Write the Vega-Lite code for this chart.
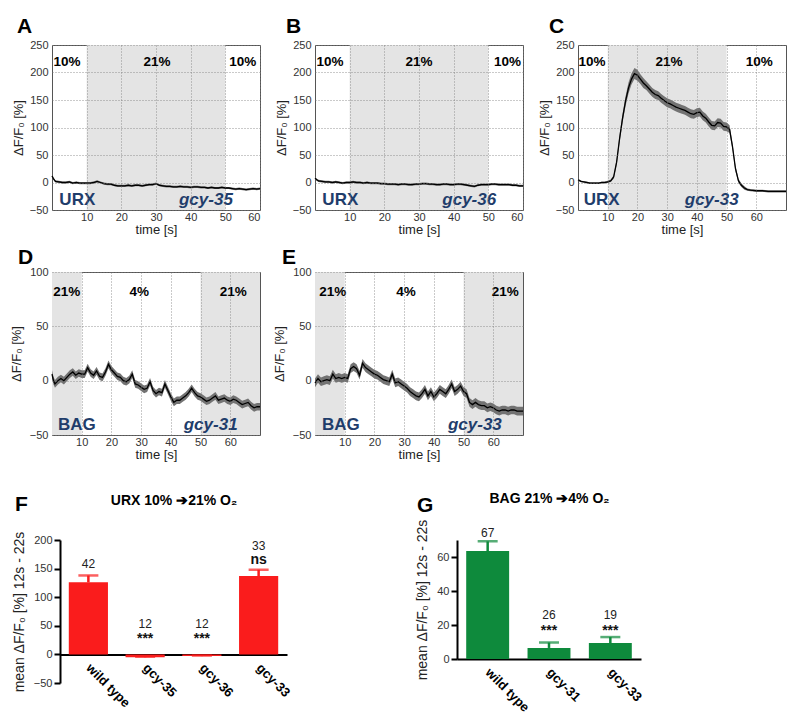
{
"$schema": "https://vega.github.io/schema/vega-lite/v6.json",
"padding": {"left": 9, "top": 15, "right": 0, "bottom": 0},
"config": {"font": "Liberation Sans", "view": {"stroke": null}, "axis": {"labelColor": "#333", "titleColor": "#222", "titleFontWeight": "normal", "labelFont": "Liberation Sans", "titleFont": "Liberation Sans", "labelOverlap": false}},
"datasets": {
"A": [{"t":0,"v":12,"s":2},{"t":0.5,"v":6,"s":2},{"t":1,"v":2,"s":2},{"t":2,"v":1,"s":2},{"t":3,"v":0,"s":2},{"t":4,"v":0,"s":2},{"t":5,"v":1,"s":2},{"t":6,"v":-1,"s":2},{"t":7,"v":0,"s":2},{"t":8,"v":-1,"s":2},{"t":9,"v":-1,"s":2},{"t":10,"v":-1,"s":2},{"t":11,"v":-1,"s":2},{"t":12,"v":0,"s":2},{"t":13,"v":2,"s":2},{"t":14,"v":0,"s":2},{"t":15,"v":-2,"s":2},{"t":16,"v":-3,"s":2},{"t":17,"v":-3,"s":2},{"t":18,"v":-5,"s":2},{"t":19,"v":-6,"s":2},{"t":20,"v":-6,"s":2},{"t":21,"v":-6,"s":2},{"t":22,"v":-5,"s":2},{"t":23,"v":-6,"s":2},{"t":24,"v":-5,"s":2},{"t":25,"v":-5,"s":2},{"t":26,"v":-6,"s":2},{"t":27,"v":-5,"s":2},{"t":28,"v":-4,"s":2},{"t":29,"v":-4,"s":2},{"t":30,"v":-2,"s":2},{"t":31,"v":-5,"s":2},{"t":32,"v":-6,"s":2},{"t":33,"v":-7,"s":2},{"t":34,"v":-7,"s":2},{"t":35,"v":-8,"s":2},{"t":36,"v":-8,"s":2},{"t":37,"v":-7,"s":2},{"t":38,"v":-8,"s":2},{"t":39,"v":-8,"s":2},{"t":40,"v":-9,"s":2},{"t":41,"v":-8,"s":2},{"t":42,"v":-8,"s":2},{"t":43,"v":-9,"s":2},{"t":44,"v":-9,"s":2},{"t":45,"v":-10,"s":2},{"t":46,"v":-9,"s":2},{"t":47,"v":-10,"s":2},{"t":48,"v":-10,"s":2},{"t":49,"v":-9,"s":2},{"t":50,"v":-10,"s":2},{"t":51,"v":-10,"s":2},{"t":52,"v":-11,"s":2},{"t":53,"v":-12,"s":2},{"t":54,"v":-11,"s":2},{"t":55,"v":-12,"s":2},{"t":56,"v":-13,"s":2},{"t":57,"v":-12,"s":2},{"t":58,"v":-11,"s":2},{"t":59,"v":-12,"s":2},{"t":60,"v":-11,"s":2}],
"B": [{"t":0,"v":8,"s":2},{"t":0.5,"v":5,"s":2},{"t":1,"v":3,"s":2},{"t":2,"v":2,"s":2},{"t":3,"v":1,"s":2},{"t":4,"v":1,"s":2},{"t":5,"v":0,"s":2},{"t":6,"v":1,"s":2},{"t":7,"v":0,"s":2},{"t":8,"v":-1,"s":2},{"t":9,"v":0,"s":2},{"t":10,"v":0,"s":2},{"t":11,"v":1,"s":2},{"t":12,"v":0,"s":2},{"t":13,"v":0,"s":2},{"t":14,"v":-1,"s":2},{"t":15,"v":0,"s":2},{"t":16,"v":-1,"s":2},{"t":17,"v":-1,"s":2},{"t":18,"v":-1,"s":2},{"t":19,"v":-2,"s":2},{"t":20,"v":-2,"s":2},{"t":21,"v":-3,"s":2},{"t":22,"v":-3,"s":2},{"t":23,"v":-3,"s":2},{"t":24,"v":-4,"s":2},{"t":25,"v":-3,"s":2},{"t":26,"v":-3,"s":2},{"t":27,"v":-4,"s":2},{"t":28,"v":-4,"s":2},{"t":29,"v":-3,"s":2},{"t":30,"v":-3,"s":2},{"t":31,"v":-2,"s":2},{"t":32,"v":-2,"s":2},{"t":33,"v":-3,"s":2},{"t":34,"v":-3,"s":2},{"t":35,"v":-4,"s":2},{"t":36,"v":-4,"s":2},{"t":37,"v":-3,"s":2},{"t":38,"v":-3,"s":2},{"t":39,"v":-4,"s":2},{"t":40,"v":-4,"s":2},{"t":41,"v":-3,"s":2},{"t":42,"v":-3,"s":2},{"t":43,"v":-4,"s":2},{"t":44,"v":-5,"s":2},{"t":45,"v":-6,"s":2},{"t":46,"v":-7,"s":2},{"t":47,"v":-5,"s":2},{"t":48,"v":-4,"s":2},{"t":49,"v":-4,"s":2},{"t":50,"v":-4,"s":2},{"t":51,"v":-3,"s":2},{"t":52,"v":-3,"s":2},{"t":53,"v":-4,"s":2},{"t":54,"v":-4,"s":2},{"t":55,"v":-4,"s":2},{"t":56,"v":-4,"s":2},{"t":57,"v":-5,"s":2},{"t":58,"v":-5,"s":2},{"t":59,"v":-6,"s":2},{"t":60,"v":-6,"s":2}],
"C": [{"t":0,"v":5,"s":2},{"t":1,"v":2,"s":1.5},{"t":2,"v":1,"s":1.5},{"t":3,"v":0,"s":1.5},{"t":4,"v":-1,"s":1.5},{"t":5,"v":-1,"s":1.5},{"t":6,"v":-1,"s":1.5},{"t":7,"v":-1,"s":1.5},{"t":8,"v":0,"s":1.5},{"t":9,"v":0,"s":1.5},{"t":10,"v":1,"s":2},{"t":11,"v":3,"s":2},{"t":12,"v":10,"s":3},{"t":13,"v":37,"s":5},{"t":14,"v":80,"s":7},{"t":15,"v":117,"s":8},{"t":16,"v":148,"s":9},{"t":17,"v":172,"s":10},{"t":18,"v":188,"s":10},{"t":19,"v":198,"s":10},{"t":20,"v":195,"s":10},{"t":21,"v":188,"s":9},{"t":22,"v":181,"s":9},{"t":23,"v":176,"s":8},{"t":24,"v":170,"s":8},{"t":25,"v":164,"s":8},{"t":26,"v":160,"s":8},{"t":27,"v":158,"s":8},{"t":28,"v":153,"s":8},{"t":29,"v":149,"s":8},{"t":30,"v":145,"s":8},{"t":31,"v":143,"s":8},{"t":32,"v":140,"s":8},{"t":33,"v":137,"s":8},{"t":34,"v":135,"s":8},{"t":35,"v":133,"s":8},{"t":36,"v":131,"s":8},{"t":37,"v":128,"s":8},{"t":38,"v":125,"s":8},{"t":39,"v":124,"s":8},{"t":40,"v":127,"s":8},{"t":41,"v":128,"s":8},{"t":42,"v":121,"s":8},{"t":43,"v":117,"s":8},{"t":44,"v":110,"s":8},{"t":45,"v":104,"s":8},{"t":46,"v":103,"s":8},{"t":47,"v":109,"s":8},{"t":48,"v":108,"s":8},{"t":49,"v":102,"s":8},{"t":50,"v":101,"s":8},{"t":51,"v":97,"s":7},{"t":52,"v":65,"s":6},{"t":53,"v":25,"s":5},{"t":54,"v":3,"s":4},{"t":55,"v":-5,"s":3},{"t":56,"v":-10,"s":3},{"t":57,"v":-13,"s":2},{"t":58,"v":-14,"s":2},{"t":60,"v":-15,"s":2},{"t":62,"v":-15,"s":2},{"t":64,"v":-16,"s":2},{"t":66,"v":-16,"s":2},{"t":68,"v":-16,"s":2},{"t":70,"v":-16,"s":2}],
"D": [{"t":0,"v":6,"s":3.5},{"t":0.5,"v":0,"s":3.5},{"t":1,"v":-3,"s":3.5},{"t":2,"v":0,"s":3.5},{"t":3,"v":2,"s":3.5},{"t":4,"v":0,"s":3.5},{"t":5,"v":3,"s":3.5},{"t":6,"v":6,"s":3.5},{"t":7,"v":8,"s":3.5},{"t":8,"v":5,"s":3.5},{"t":9,"v":7,"s":3.5},{"t":10,"v":6,"s":3.5},{"t":11,"v":6,"s":3.5},{"t":12,"v":12,"s":3.5},{"t":13,"v":7,"s":3.5},{"t":14,"v":5,"s":3.5},{"t":15,"v":9,"s":3.5},{"t":16,"v":4,"s":3.5},{"t":17,"v":3,"s":3.5},{"t":18,"v":8,"s":3.5},{"t":19,"v":15,"s":3.5},{"t":20,"v":10,"s":3.5},{"t":21,"v":7,"s":3.5},{"t":22,"v":4,"s":3.5},{"t":23,"v":3,"s":3.5},{"t":24,"v":0,"s":3.5},{"t":25,"v":-1,"s":3.5},{"t":26,"v":1,"s":3.5},{"t":27,"v":6,"s":3.5},{"t":28,"v":-3,"s":3.5},{"t":29,"v":-4,"s":3.5},{"t":30,"v":-6,"s":3.5},{"t":31,"v":-8,"s":3.5},{"t":32,"v":-7,"s":3.5},{"t":33,"v":-1,"s":3.5},{"t":34,"v":-9,"s":3.5},{"t":35,"v":-12,"s":3.5},{"t":36,"v":-10,"s":3.5},{"t":37,"v":-11,"s":3.5},{"t":38,"v":-3,"s":3.5},{"t":39,"v":-9,"s":3.5},{"t":40,"v":-15,"s":3.5},{"t":41,"v":-20,"s":3.5},{"t":42,"v":-18,"s":3.5},{"t":43,"v":-18,"s":3.5},{"t":44,"v":-16,"s":3.5},{"t":45,"v":-14,"s":3.5},{"t":46,"v":-11,"s":3.5},{"t":47,"v":-7,"s":3.5},{"t":48,"v":-11,"s":3.5},{"t":49,"v":-14,"s":3.5},{"t":50,"v":-15,"s":3.5},{"t":51,"v":-17,"s":3.5},{"t":52,"v":-19,"s":3.5},{"t":53,"v":-18,"s":3.5},{"t":54,"v":-16,"s":3.5},{"t":55,"v":-14,"s":3.5},{"t":56,"v":-18,"s":3.5},{"t":57,"v":-17,"s":3.5},{"t":58,"v":-16,"s":3.5},{"t":59,"v":-18,"s":3.5},{"t":60,"v":-19,"s":3.5},{"t":61,"v":-17,"s":3.5},{"t":62,"v":-18,"s":3.5},{"t":63,"v":-20,"s":3.5},{"t":64,"v":-22,"s":3.5},{"t":65,"v":-21,"s":3.5},{"t":66,"v":-20,"s":3.5},{"t":67,"v":-23,"s":3.5},{"t":68,"v":-25,"s":3.5},{"t":69,"v":-24,"s":3.5},{"t":70,"v":-24,"s":3.5}],
"E": [{"t":0,"v":-2,"s":4},{"t":1,"v":2,"s":4},{"t":2,"v":-1,"s":4},{"t":3,"v":0,"s":4},{"t":4,"v":1,"s":4},{"t":5,"v":0,"s":4},{"t":6,"v":6,"s":4},{"t":7,"v":2,"s":4},{"t":8,"v":3,"s":4},{"t":9,"v":2,"s":4},{"t":10,"v":3,"s":4},{"t":11,"v":2,"s":4},{"t":12,"v":11,"s":4},{"t":13,"v":13,"s":4},{"t":14,"v":11,"s":4},{"t":15,"v":5,"s":4},{"t":16,"v":16,"s":4},{"t":17,"v":12,"s":4},{"t":18,"v":10,"s":4},{"t":19,"v":8,"s":4},{"t":20,"v":6,"s":4},{"t":21,"v":5,"s":4},{"t":22,"v":3,"s":4},{"t":23,"v":1,"s":4},{"t":24,"v":0,"s":4},{"t":25,"v":-1,"s":4},{"t":26,"v":6,"s":4},{"t":27,"v":-2,"s":4},{"t":28,"v":-1,"s":4},{"t":29,"v":-3,"s":4},{"t":30,"v":-5,"s":4},{"t":31,"v":-7,"s":4},{"t":32,"v":-10,"s":4},{"t":33,"v":-12,"s":4},{"t":34,"v":-14,"s":4},{"t":35,"v":-15,"s":4},{"t":36,"v":-12,"s":4},{"t":37,"v":-8,"s":4},{"t":38,"v":-14,"s":4},{"t":39,"v":-10,"s":4},{"t":40,"v":-15,"s":4},{"t":41,"v":-12,"s":4},{"t":42,"v":-8,"s":4},{"t":43,"v":-10,"s":4},{"t":44,"v":-12,"s":4},{"t":45,"v":-8,"s":4},{"t":46,"v":-3,"s":4},{"t":47,"v":-10,"s":4},{"t":48,"v":-8,"s":4},{"t":49,"v":-5,"s":4},{"t":50,"v":-10,"s":4},{"t":51,"v":-12,"s":4},{"t":52,"v":-20,"s":4},{"t":53,"v":-22,"s":4},{"t":54,"v":-20,"s":4},{"t":55,"v":-22,"s":4},{"t":56,"v":-23,"s":4},{"t":57,"v":-23,"s":4},{"t":58,"v":-25,"s":4},{"t":59,"v":-24,"s":4},{"t":60,"v":-25,"s":4},{"t":61,"v":-27,"s":4},{"t":62,"v":-28,"s":4},{"t":63,"v":-27,"s":4},{"t":64,"v":-27,"s":4},{"t":65,"v":-28,"s":4},{"t":66,"v":-27,"s":4},{"t":67,"v":-27,"s":4},{"t":68,"v":-28,"s":4},{"t":69,"v":-28,"s":4},{"t":70,"v":-28,"s":4}],
"shadeURX": [{"start":10,"end":50}],
"shadeBAG": [{"start":0,"end":10},{"start":50,"end":70}],
"labA": [{"t":4.3,"v":219,"label":"10%","kind":"pct"},{"t":30.3,"v":219,"label":"21%","kind":"pct"},{"t":55,"v":219,"label":"10%","kind":"pct"},{"t":7.3,"v":-32,"label":"URX","kind":"cell"},{"t":44.4,"v":-32,"label":"gcy-35","kind":"gene"}],
"labB": [{"t":4.3,"v":219,"label":"10%","kind":"pct"},{"t":30,"v":219,"label":"21%","kind":"pct"},{"t":55.5,"v":219,"label":"10%","kind":"pct"},{"t":7.3,"v":-32,"label":"URX","kind":"cell"},{"t":44.5,"v":-32,"label":"gcy-36","kind":"gene"}],
"labC": [{"t":4.7,"v":219,"label":"10%","kind":"pct"},{"t":30.6,"v":219,"label":"21%","kind":"pct"},{"t":61,"v":219,"label":"10%","kind":"pct"},{"t":8,"v":-32,"label":"URX","kind":"cell"},{"t":45,"v":-32,"label":"gcy-33","kind":"gene"}],
"labD": [{"t":5,"v":82,"label":"21%","kind":"pct"},{"t":29.4,"v":82,"label":"4%","kind":"pct"},{"t":61,"v":82,"label":"21%","kind":"pct"},{"t":8.4,"v":-41,"label":"BAG","kind":"cell"},{"t":53.4,"v":-41,"label":"gcy-31","kind":"gene"}],
"labE": [{"t":6,"v":82,"label":"21%","kind":"pct"},{"t":30.6,"v":82,"label":"4%","kind":"pct"},{"t":64,"v":82,"label":"21%","kind":"pct"},{"t":8.7,"v":-41,"label":"BAG","kind":"cell"},{"t":53.8,"v":-41,"label":"gcy-33","kind":"gene"}],
"F": [{"g":"wild type","v":126,"hi":138},{"g":"gcy-35","v":-5,"hi":-4},{"g":"gcy-36","v":-3,"hi":-2},{"g":"gcy-33","v":137,"hi":148}],
"Ftext": [{"g":"wild type","y":158,"label":"42","kind":"n"},{"g":"gcy-35","y":54,"label":"12","kind":"n"},{"g":"gcy-36","y":54,"label":"12","kind":"n"},{"g":"gcy-33","y":190,"label":"33","kind":"n"},{"g":"gcy-35","y":27,"label":"***","kind":"sig"},{"g":"gcy-36","y":27,"label":"***","kind":"sig"},{"g":"gcy-33","y":165,"label":"ns","kind":"sig"}],
"G": [{"g":"wild type","v":63.5,"hi":69.2},{"g":"gcy-31","v":6.5,"hi":9.7},{"g":"gcy-33","v":9.4,"hi":12.9}],
"Gtext": [{"g":"wild type","y":74,"label":"67","kind":"n"},{"g":"gcy-31","y":26,"label":"26","kind":"n"},{"g":"gcy-33","y":26,"label":"19","kind":"n"},{"g":"gcy-31","y":16.5,"label":"***","kind":"sig"},{"g":"gcy-33","y":16.5,"label":"***","kind":"sig"}]
},
"spacing": 29,
"vconcat": [
{"spacing": 9, "vconcat": [
{"bounds": "flush", "spacing": 55, "hconcat": [
{"width": 208, "height": 165, "view": {"stroke": "#555"},
 "title": {"text": "A", "anchor": "start", "frame": "group", "dx": -35, "offset": -15, "baseline": "alphabetic", "fontSize": 21, "fontWeight": "bold", "color": "#000"},
 "layer": [
  {"data": {"name": "shadeURX"}, "mark": {"type": "rect", "color": "#e4e4e4"}, "encoding": {"x": {"field": "start", "type": "quantitative", "scale": {"domain": [0, 60], "nice": false, "zero": false}, "axis": {"title": "time [s]", "values": [10,20,30,40,50,60], "tickCount": 20, "grid": true, "gridDash": [1,2], "gridColor": "#7a7a7a", "gridWidth": 0.8, "domain": false, "ticks": false, "labelPadding": 1, "labelFontSize": 11, "titleFontSize": 13, "titlePadding": 1, "zindex": 1}}, "x2": {"field": "end"}}},
  {"data": {"name": "A"}, "mark": {"type": "errorband", "band": {"color": "#737373", "opacity": 1}}, "encoding": {"x": {"field": "t", "type": "quantitative"}, "y": {"field": "v", "type": "quantitative", "scale": {"domain": [-50, 250], "nice": false, "zero": false}, "axis": {"title": "ΔF/F₀ [%]", "values": [-50,0,50,100,150,200,250], "tickCount": 20, "grid": true, "gridDash": [1,2], "gridColor": "#7a7a7a", "gridWidth": 0.8, "domain": false, "ticks": false, "labelPadding": 4, "labelFontSize": 11, "titleFontSize": 13, "titlePadding": 4, "zindex": 1}}, "yError": {"field": "s"}}},
  {"data": {"name": "A"}, "mark": {"type": "line", "color": "#000", "strokeWidth": 1.3}, "encoding": {"x": {"field": "t", "type": "quantitative"}, "y": {"field": "v", "type": "quantitative"}}},
  {"data": {"name": "labA"}, "transform": [{"filter": "datum.kind == 'pct'"}], "mark": {"type": "text", "fontWeight": "bold", "fontSize": 13.5, "color": "#000"}, "encoding": {"x": {"field": "t", "type": "quantitative"}, "y": {"field": "v", "type": "quantitative"}, "text": {"field": "label"}}},
  {"data": {"name": "labA"}, "transform": [{"filter": "datum.kind == 'cell'"}], "mark": {"type": "text", "fontWeight": "bold", "fontSize": 17, "color": "#1f3d6b"}, "encoding": {"x": {"field": "t", "type": "quantitative"}, "y": {"field": "v", "type": "quantitative"}, "text": {"field": "label"}}},
  {"data": {"name": "labA"}, "transform": [{"filter": "datum.kind == 'gene'"}], "mark": {"type": "text", "fontWeight": "bold", "fontStyle": "italic", "fontSize": 17, "color": "#1f3d6b"}, "encoding": {"x": {"field": "t", "type": "quantitative"}, "y": {"field": "v", "type": "quantitative"}, "text": {"field": "label"}}}
 ]},
{"width": 208, "height": 165, "view": {"stroke": "#555"},
 "title": {"text": "B", "anchor": "start", "frame": "group", "dx": -29, "offset": -15, "baseline": "alphabetic", "fontSize": 21, "fontWeight": "bold", "color": "#000"},
 "layer": [
  {"data": {"name": "shadeURX"}, "mark": {"type": "rect", "color": "#e4e4e4"}, "encoding": {"x": {"field": "start", "type": "quantitative", "scale": {"domain": [0, 60], "nice": false, "zero": false}, "axis": {"title": "time [s]", "values": [10,20,30,40,50,60], "tickCount": 20, "grid": true, "gridDash": [1,2], "gridColor": "#7a7a7a", "gridWidth": 0.8, "domain": false, "ticks": false, "labelPadding": 1, "labelFontSize": 11, "titleFontSize": 13, "titlePadding": 1, "zindex": 1}}, "x2": {"field": "end"}}},
  {"data": {"name": "B"}, "mark": {"type": "errorband", "band": {"color": "#737373", "opacity": 1}}, "encoding": {"x": {"field": "t", "type": "quantitative"}, "y": {"field": "v", "type": "quantitative", "scale": {"domain": [-50, 250], "nice": false, "zero": false}, "axis": {"title": "ΔF/F₀ [%]", "values": [-50,0,50,100,150,200,250], "tickCount": 20, "grid": true, "gridDash": [1,2], "gridColor": "#7a7a7a", "gridWidth": 0.8, "domain": false, "ticks": false, "labelPadding": 4, "labelFontSize": 11, "titleFontSize": 13, "titlePadding": 4, "zindex": 1}}, "yError": {"field": "s"}}},
  {"data": {"name": "B"}, "mark": {"type": "line", "color": "#000", "strokeWidth": 1.3}, "encoding": {"x": {"field": "t", "type": "quantitative"}, "y": {"field": "v", "type": "quantitative"}}},
  {"data": {"name": "labB"}, "transform": [{"filter": "datum.kind == 'pct'"}], "mark": {"type": "text", "fontWeight": "bold", "fontSize": 13.5, "color": "#000"}, "encoding": {"x": {"field": "t", "type": "quantitative"}, "y": {"field": "v", "type": "quantitative"}, "text": {"field": "label"}}},
  {"data": {"name": "labB"}, "transform": [{"filter": "datum.kind == 'cell'"}], "mark": {"type": "text", "fontWeight": "bold", "fontSize": 17, "color": "#1f3d6b"}, "encoding": {"x": {"field": "t", "type": "quantitative"}, "y": {"field": "v", "type": "quantitative"}, "text": {"field": "label"}}},
  {"data": {"name": "labB"}, "transform": [{"filter": "datum.kind == 'gene'"}], "mark": {"type": "text", "fontWeight": "bold", "fontStyle": "italic", "fontSize": 17, "color": "#1f3d6b"}, "encoding": {"x": {"field": "t", "type": "quantitative"}, "y": {"field": "v", "type": "quantitative"}, "text": {"field": "label"}}}
 ]},
{"width": 208, "height": 165, "view": {"stroke": "#555"},
 "title": {"text": "C", "anchor": "start", "frame": "group", "dx": -29, "offset": -15, "baseline": "alphabetic", "fontSize": 21, "fontWeight": "bold", "color": "#000"},
 "layer": [
  {"data": {"name": "shadeURX"}, "mark": {"type": "rect", "color": "#e4e4e4"}, "encoding": {"x": {"field": "start", "type": "quantitative", "scale": {"domain": [0, 70], "nice": false, "zero": false}, "axis": {"title": "time [s]", "values": [10,20,30,40,50,60], "tickCount": 20, "grid": true, "gridDash": [1,2], "gridColor": "#7a7a7a", "gridWidth": 0.8, "domain": false, "ticks": false, "labelPadding": 1, "labelFontSize": 11, "titleFontSize": 13, "titlePadding": 1, "zindex": 1}}, "x2": {"field": "end"}}},
  {"data": {"name": "C"}, "mark": {"type": "errorband", "band": {"color": "#737373", "opacity": 1}}, "encoding": {"x": {"field": "t", "type": "quantitative"}, "y": {"field": "v", "type": "quantitative", "scale": {"domain": [-50, 250], "nice": false, "zero": false}, "axis": {"title": "ΔF/F₀ [%]", "values": [-50,0,50,100,150,200,250], "tickCount": 20, "grid": true, "gridDash": [1,2], "gridColor": "#7a7a7a", "gridWidth": 0.8, "domain": false, "ticks": false, "labelPadding": 4, "labelFontSize": 11, "titleFontSize": 13, "titlePadding": 4, "zindex": 1}}, "yError": {"field": "s"}}},
  {"data": {"name": "C"}, "mark": {"type": "line", "color": "#000", "strokeWidth": 1.3}, "encoding": {"x": {"field": "t", "type": "quantitative"}, "y": {"field": "v", "type": "quantitative"}}},
  {"data": {"name": "labC"}, "transform": [{"filter": "datum.kind == 'pct'"}], "mark": {"type": "text", "fontWeight": "bold", "fontSize": 13.5, "color": "#000"}, "encoding": {"x": {"field": "t", "type": "quantitative"}, "y": {"field": "v", "type": "quantitative"}, "text": {"field": "label"}}},
  {"data": {"name": "labC"}, "transform": [{"filter": "datum.kind == 'cell'"}], "mark": {"type": "text", "fontWeight": "bold", "fontSize": 17, "color": "#1f3d6b"}, "encoding": {"x": {"field": "t", "type": "quantitative"}, "y": {"field": "v", "type": "quantitative"}, "text": {"field": "label"}}},
  {"data": {"name": "labC"}, "transform": [{"filter": "datum.kind == 'gene'"}], "mark": {"type": "text", "fontWeight": "bold", "fontStyle": "italic", "fontSize": 17, "color": "#1f3d6b"}, "encoding": {"x": {"field": "t", "type": "quantitative"}, "y": {"field": "v", "type": "quantitative"}, "text": {"field": "label"}}}
 ]}
]},
{"bounds": "flush", "spacing": 55, "hconcat": [
{"width": 208, "height": 163, "view": {"stroke": "#555"},
 "title": {"text": "D", "anchor": "start", "frame": "group", "dx": -34, "offset": -19, "baseline": "alphabetic", "fontSize": 21, "fontWeight": "bold", "color": "#000"},
 "layer": [
  {"data": {"name": "shadeBAG"}, "mark": {"type": "rect", "color": "#e4e4e4"}, "encoding": {"x": {"field": "start", "type": "quantitative", "scale": {"domain": [0, 70], "nice": false, "zero": false}, "axis": {"title": "time [s]", "values": [10,20,30,40,50,60], "tickCount": 20, "grid": true, "gridDash": [1,2], "gridColor": "#7a7a7a", "gridWidth": 0.8, "domain": false, "ticks": false, "labelPadding": 1, "labelFontSize": 11, "titleFontSize": 13, "titlePadding": 1, "zindex": 1}}, "x2": {"field": "end"}}},
  {"data": {"name": "D"}, "mark": {"type": "errorband", "band": {"color": "#737373", "opacity": 1}}, "encoding": {"x": {"field": "t", "type": "quantitative"}, "y": {"field": "v", "type": "quantitative", "scale": {"domain": [-50, 100], "nice": false, "zero": false}, "axis": {"title": "ΔF/F₀ [%]", "values": [-50,0,50,100], "tickCount": 20, "grid": true, "gridDash": [1,2], "gridColor": "#7a7a7a", "gridWidth": 0.8, "domain": false, "ticks": false, "labelPadding": 4, "labelFontSize": 11, "titleFontSize": 13, "titlePadding": 6, "zindex": 1}}, "yError": {"field": "s"}}},
  {"data": {"name": "D"}, "mark": {"type": "line", "color": "#000", "strokeWidth": 1.3}, "encoding": {"x": {"field": "t", "type": "quantitative"}, "y": {"field": "v", "type": "quantitative"}}},
  {"data": {"name": "labD"}, "transform": [{"filter": "datum.kind == 'pct'"}], "mark": {"type": "text", "fontWeight": "bold", "fontSize": 13.5, "color": "#000"}, "encoding": {"x": {"field": "t", "type": "quantitative"}, "y": {"field": "v", "type": "quantitative"}, "text": {"field": "label"}}},
  {"data": {"name": "labD"}, "transform": [{"filter": "datum.kind == 'cell'"}], "mark": {"type": "text", "fontWeight": "bold", "fontSize": 17, "color": "#1f3d6b"}, "encoding": {"x": {"field": "t", "type": "quantitative"}, "y": {"field": "v", "type": "quantitative"}, "text": {"field": "label"}}},
  {"data": {"name": "labD"}, "transform": [{"filter": "datum.kind == 'gene'"}], "mark": {"type": "text", "fontWeight": "bold", "fontStyle": "italic", "fontSize": 17, "color": "#1f3d6b"}, "encoding": {"x": {"field": "t", "type": "quantitative"}, "y": {"field": "v", "type": "quantitative"}, "text": {"field": "label"}}}
 ]},
{"width": 208, "height": 163, "view": {"stroke": "#555"},
 "title": {"text": "E", "anchor": "start", "frame": "group", "dx": -33, "offset": -19, "baseline": "alphabetic", "fontSize": 21, "fontWeight": "bold", "color": "#000"},
 "layer": [
  {"data": {"name": "shadeBAG"}, "mark": {"type": "rect", "color": "#e4e4e4"}, "encoding": {"x": {"field": "start", "type": "quantitative", "scale": {"domain": [0, 70], "nice": false, "zero": false}, "axis": {"title": "time [s]", "values": [10,20,30,40,50,60], "tickCount": 20, "grid": true, "gridDash": [1,2], "gridColor": "#7a7a7a", "gridWidth": 0.8, "domain": false, "ticks": false, "labelPadding": 1, "labelFontSize": 11, "titleFontSize": 13, "titlePadding": 1, "zindex": 1}}, "x2": {"field": "end"}}},
  {"data": {"name": "E"}, "mark": {"type": "errorband", "band": {"color": "#737373", "opacity": 1}}, "encoding": {"x": {"field": "t", "type": "quantitative"}, "y": {"field": "v", "type": "quantitative", "scale": {"domain": [-50, 100], "nice": false, "zero": false}, "axis": {"title": "ΔF/F₀ [%]", "values": [-50,0,50,100], "tickCount": 20, "grid": true, "gridDash": [1,2], "gridColor": "#7a7a7a", "gridWidth": 0.8, "domain": false, "ticks": false, "labelPadding": 4, "labelFontSize": 11, "titleFontSize": 13, "titlePadding": 6, "zindex": 1}}, "yError": {"field": "s"}}},
  {"data": {"name": "E"}, "mark": {"type": "line", "color": "#000", "strokeWidth": 1.3}, "encoding": {"x": {"field": "t", "type": "quantitative"}, "y": {"field": "v", "type": "quantitative"}}},
  {"data": {"name": "labE"}, "transform": [{"filter": "datum.kind == 'pct'"}], "mark": {"type": "text", "fontWeight": "bold", "fontSize": 13.5, "color": "#000"}, "encoding": {"x": {"field": "t", "type": "quantitative"}, "y": {"field": "v", "type": "quantitative"}, "text": {"field": "label"}}},
  {"data": {"name": "labE"}, "transform": [{"filter": "datum.kind == 'cell'"}], "mark": {"type": "text", "fontWeight": "bold", "fontSize": 17, "color": "#1f3d6b"}, "encoding": {"x": {"field": "t", "type": "quantitative"}, "y": {"field": "v", "type": "quantitative"}, "text": {"field": "label"}}},
  {"data": {"name": "labE"}, "transform": [{"filter": "datum.kind == 'gene'"}], "mark": {"type": "text", "fontWeight": "bold", "fontStyle": "italic", "fontSize": 17, "color": "#1f3d6b"}, "encoding": {"x": {"field": "t", "type": "quantitative"}, "y": {"field": "v", "type": "quantitative"}, "text": {"field": "label"}}}
 ]}
]}
]},
{"bounds": "flush", "spacing": 170, "hconcat": [
{"width": 235, "height": 143,
 "title": {"text": "F", "anchor": "start", "frame": "group", "dx": -37, "offset": -39, "baseline": "alphabetic", "fontSize": 21, "fontWeight": "bold", "color": "#000"},
 "resolve": {"axis": {"x": "independent"}},
 "layer": [
  {"data": {"name": "F"}, "mark": {"type": "bar", "color": "#fa1c1c"}, "encoding": {"x": {"field": "g", "type": "nominal", "sort": null, "scale": {"domain": ["wild type","gcy-35","gcy-36","gcy-33"], "range": [8, 235], "paddingInner": 0.31, "paddingOuter": 0.155}, "axis": {"orient": "bottom", "offset": -28.6, "title": null, "labelAngle": 45, "labelAlign": "left", "labelBaseline": "middle", "labelFontWeight": "bold", "labelFontSize": 13, "labelColor": "#000", "labelPadding": 11, "ticks": false, "domain": true, "domainColor": "#000", "domainWidth": 2}}, "y": {"field": "v", "type": "quantitative", "scale": {"domain": [-50, 200], "nice": false}, "axis": {"title": "mean ΔF/F₀ [%] 12s - 22s", "values": [-50,0,50,100,150,200], "tickCount": 20, "grid": false, "domain": true, "domainColor": "#000", "domainWidth": 2, "ticks": true, "tickColor": "#000", "tickWidth": 2, "tickSize": 6, "labelFontSize": 11, "labelPadding": 2, "titleFontSize": 14, "titlePadding": 7, "offset": -8}}}},
  {"data": {"name": "F"}, "mark": {"type": "rule", "color": "#fa1c1c", "strokeWidth": 2.5}, "encoding": {"x": {"field": "g", "type": "nominal", "sort": null, "axis": null, "scale": {"domain": ["wild type","gcy-35","gcy-36","gcy-33"]}}, "y": {"field": "v", "type": "quantitative"}, "y2": {"field": "hi"}}},
  {"data": {"name": "F"}, "mark": {"type": "tick", "color": "#fa1c1c", "thickness": 2.5, "size": 20}, "encoding": {"x": {"field": "g", "type": "nominal", "sort": null, "axis": null, "scale": {"domain": ["wild type","gcy-35","gcy-36","gcy-33"]}}, "y": {"field": "hi", "type": "quantitative"}}},
  {"data": {"name": "Ftext"}, "transform": [{"filter": "datum.kind == 'n'"}], "mark": {"type": "text", "fontSize": 12, "color": "#222"}, "encoding": {"x": {"field": "g", "type": "nominal", "sort": null, "scale": {"domain": ["wild type","gcy-35","gcy-36","gcy-33"]}, "axis": {"orient": "top", "labels": false, "ticks": false, "domain": false, "title": "URX 10% ➔21% O₂", "titleFontWeight": "bold", "titleFontSize": 14, "titleColor": "#000", "titlePadding": 33}}, "y": {"field": "y", "type": "quantitative"}, "text": {"field": "label"}}},
  {"data": {"name": "Ftext"}, "transform": [{"filter": "datum.kind == 'sig'"}], "mark": {"type": "text", "fontSize": 14, "fontWeight": "bold", "color": "#111"}, "encoding": {"x": {"field": "g", "type": "nominal", "sort": null, "axis": null, "scale": {"domain": ["wild type","gcy-35","gcy-36","gcy-33"]}}, "y": {"field": "y", "type": "quantitative"}, "text": {"field": "label"}}}
 ]},
{"width": 184, "height": 119,
 "title": {"text": "G", "anchor": "start", "frame": "group", "dx": -40, "offset": -42, "baseline": "alphabetic", "fontSize": 21, "fontWeight": "bold", "color": "#000"},
 "resolve": {"axis": {"x": "independent"}},
 "layer": [
  {"data": {"name": "G"}, "mark": {"type": "bar", "color": "#0e8a3c"}, "encoding": {"x": {"field": "g", "type": "nominal", "sort": null, "scale": {"domain": ["wild type","gcy-31","gcy-33"], "paddingInner": 0.3, "paddingOuter": 0.15}, "axis": {"orient": "bottom", "title": null, "labelAngle": 45, "labelAlign": "left", "labelBaseline": "middle", "labelFontWeight": "bold", "labelFontSize": 13, "labelColor": "#000", "labelPadding": 11, "ticks": false, "domain": true, "domainColor": "#000", "domainWidth": 2}}, "y": {"field": "v", "type": "quantitative", "scale": {"domain": [0, 70], "nice": false}, "axis": {"title": "mean ΔF/F₀ [%] 12s - 22s", "values": [0,20,40,60], "tickCount": 20, "grid": false, "domain": true, "domainColor": "#000", "domainWidth": 2, "ticks": true, "tickColor": "#000", "tickWidth": 2, "tickSize": 6, "labelFontSize": 11, "labelPadding": 2, "titleFontSize": 14, "titlePadding": 7}}}},
  {"data": {"name": "G"}, "mark": {"type": "rule", "color": "#0e8a3c", "strokeWidth": 2.5}, "encoding": {"x": {"field": "g", "type": "nominal", "sort": null, "axis": null, "scale": {"domain": ["wild type","gcy-31","gcy-33"]}}, "y": {"field": "v", "type": "quantitative"}, "y2": {"field": "hi"}}},
  {"data": {"name": "G"}, "mark": {"type": "tick", "color": "#0e8a3c", "thickness": 2.5, "size": 20}, "encoding": {"x": {"field": "g", "type": "nominal", "sort": null, "axis": null, "scale": {"domain": ["wild type","gcy-31","gcy-33"]}}, "y": {"field": "hi", "type": "quantitative"}}},
  {"data": {"name": "Gtext"}, "transform": [{"filter": "datum.kind == 'n'"}], "mark": {"type": "text", "fontSize": 12, "color": "#222"}, "encoding": {"x": {"field": "g", "type": "nominal", "sort": null, "scale": {"domain": ["wild type","gcy-31","gcy-33"]}, "axis": {"orient": "top", "labels": false, "ticks": false, "domain": false, "title": "BAG 21% ➔4% O₂", "titleFontWeight": "bold", "titleFontSize": 14, "titleColor": "#000", "titlePadding": 35}}, "y": {"field": "y", "type": "quantitative"}, "text": {"field": "label"}}},
  {"data": {"name": "Gtext"}, "transform": [{"filter": "datum.kind == 'sig'"}], "mark": {"type": "text", "fontSize": 14, "fontWeight": "bold", "color": "#111"}, "encoding": {"x": {"field": "g", "type": "nominal", "sort": null, "axis": null, "scale": {"domain": ["wild type","gcy-31","gcy-33"]}}, "y": {"field": "y", "type": "quantitative"}, "text": {"field": "label"}}}
 ]}
]}
]
}
